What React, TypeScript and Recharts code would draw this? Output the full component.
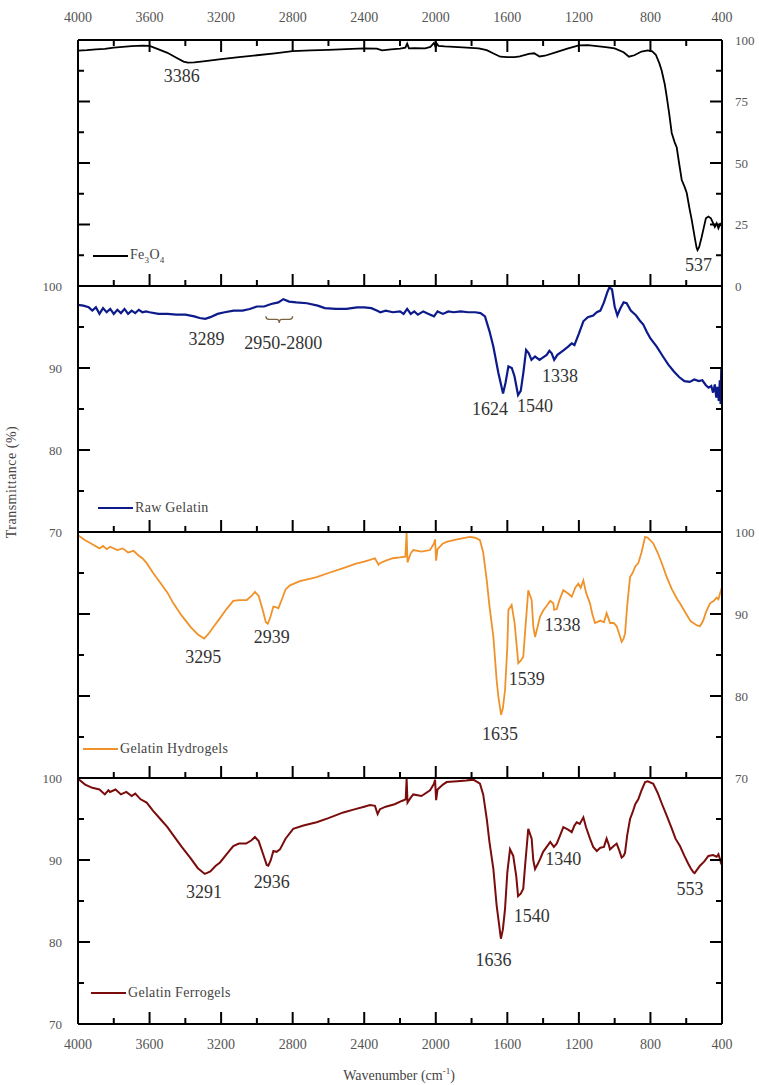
import React from "react";
import { LineChart, Line, XAxis, YAxis, ReferenceDot, ReferenceArea } from "recharts";

const SERIF = '"Liberation Serif", "DejaVu Serif", serif';

// [wavenumber (cm-1), transmittance (%)]
const fe3o4: [number, number][] = [
  [4000, 95.7], [3950, 95.9], [3900, 96.2], [3850, 96.4], [3800, 96.9], [3750, 97.2],
  [3700, 97.5], [3640, 97.7], [3600, 97.6], [3560, 96.5], [3500, 94.8], [3450, 92.8],
  [3410, 91.2], [3386, 90.8], [3350, 90.9], [3300, 91.3], [3200, 92.2], [3100, 93.0],
  [3000, 93.8], [2900, 94.6], [2800, 95.5], [2700, 95.8], [2600, 96.0], [2500, 96.3],
  [2400, 96.6], [2330, 96.5], [2300, 95.8], [2250, 96.2], [2200, 96.5], [2170, 96.9],
  [2160, 98.5], [2150, 96.6], [2120, 96.7], [2060, 96.6], [2030, 97.2], [2010, 98.8],
  [2000, 97.0], [1995, 98.6], [1985, 97.6], [1950, 97.4], [1850, 97.0], [1760, 96.6],
  [1715, 95.9], [1680, 94.6], [1640, 93.2], [1600, 93.0], [1560, 93.0], [1530, 93.3],
  [1480, 94.4], [1450, 94.6], [1420, 93.3], [1390, 93.6], [1330, 95.0], [1260, 96.6],
  [1200, 97.8], [1150, 97.9], [1100, 97.5], [1050, 97.1], [1000, 96.6], [950, 95.0],
  [920, 93.2], [890, 93.8], [850, 95.3], [815, 95.8], [790, 95.4], [770, 94.0],
  [750, 90.5], [737, 87.5], [720, 82.0], [709, 77.0], [695, 70.0], [681, 62.2],
  [665, 58.5], [653, 56.3], [640, 50.0], [625, 43.1], [610, 40.5], [597, 37.8],
  [583, 32.0], [569, 26.8], [553, 20.0], [542, 15.5], [537, 14.6], [528, 15.8],
  [515, 19.5], [504, 23.0], [490, 27.5], [476, 28.2], [462, 27.5], [449, 25.5],
  [440, 24.0], [430, 25.5], [420, 23.5], [410, 25.2], [400, 24.2],
];

const rawGelatin: [number, number][] = [
  [4000, 97.7], [3970, 97.6], [3940, 97.4], [3920, 97.0], [3900, 97.4], [3880, 96.6],
  [3860, 97.3], [3840, 96.8], [3820, 97.2], [3800, 96.6], [3780, 97.1], [3760, 96.7],
  [3740, 97.2], [3720, 96.6], [3700, 97.0], [3680, 96.7], [3660, 97.1], [3640, 96.8],
  [3620, 96.9], [3600, 96.8], [3550, 96.6], [3500, 96.6], [3450, 96.5], [3400, 96.5],
  [3350, 96.3], [3320, 96.1], [3289, 96.0], [3260, 96.2], [3220, 96.6], [3180, 96.8],
  [3130, 97.0], [3080, 97.0], [3040, 97.2], [3000, 97.5], [2960, 97.5], [2920, 97.8],
  [2880, 98.0], [2852, 98.4], [2820, 98.1], [2780, 98.0], [2720, 97.9], [2660, 97.6],
  [2620, 97.3], [2560, 97.2], [2500, 97.2], [2440, 97.4], [2400, 97.4], [2360, 97.3],
  [2330, 97.0], [2310, 96.8], [2280, 97.0], [2240, 96.8], [2200, 96.9], [2180, 96.6],
  [2160, 97.2], [2140, 96.6], [2120, 96.9], [2100, 96.5], [2070, 96.9], [2040, 96.6],
  [2010, 96.3], [1990, 96.9], [1960, 96.6], [1930, 96.9], [1900, 96.8], [1860, 96.9],
  [1820, 96.8], [1780, 96.8], [1750, 96.7], [1725, 96.3], [1700, 94.5], [1678, 92.6],
  [1650, 89.4], [1624, 86.9], [1610, 88.2], [1594, 90.2], [1575, 90.0], [1560, 89.0],
  [1540, 86.7], [1525, 87.2], [1510, 89.5], [1495, 92.2], [1480, 91.8], [1465, 91.0],
  [1445, 91.4], [1420, 91.0], [1400, 91.3], [1380, 91.6], [1365, 92.1], [1352, 91.8],
  [1338, 91.0], [1320, 91.6], [1290, 92.1], [1260, 92.6], [1240, 93.0], [1225, 92.8],
  [1200, 94.2], [1175, 95.7], [1150, 96.2], [1120, 96.4], [1100, 96.8], [1080, 97.0],
  [1060, 98.0], [1040, 99.3], [1030, 99.8], [1015, 99.6], [1000, 97.5], [985, 96.4],
  [970, 97.2], [950, 98.0], [933, 97.9], [910, 97.0], [880, 96.4], [860, 95.8],
  [840, 95.3], [820, 94.4], [800, 93.6], [765, 92.6], [730, 91.4], [700, 90.4],
  [670, 89.6], [640, 88.9], [610, 88.4], [580, 88.3], [555, 88.6], [530, 88.4],
  [510, 88.5], [490, 87.9], [475, 87.6], [460, 87.8], [450, 87.0], [440, 88.0],
  [432, 86.4], [425, 87.7], [418, 86.0], [412, 88.5], [408, 85.6], [404, 90.0],
  [402, 86.5], [400, 85.4],
];

const hydrogels: [number, number][] = [
  [4000, 99.6], [3960, 99.0], [3920, 98.5], [3880, 98.0], [3860, 98.3], [3840, 97.9],
  [3820, 98.2], [3780, 97.8], [3750, 98.0], [3720, 97.5], [3690, 97.7], [3660, 97.1],
  [3640, 96.8], [3616, 96.2], [3580, 95.0], [3540, 93.8], [3500, 92.6], [3467, 91.3],
  [3420, 89.8], [3370, 88.4], [3330, 87.5], [3295, 87.0], [3270, 87.6], [3240, 88.5],
  [3206, 89.5], [3170, 90.6], [3132, 91.6], [3100, 91.7], [3057, 91.7], [3030, 92.2],
  [3011, 92.7], [2990, 92.2], [2965, 90.3], [2950, 89.0], [2939, 88.8], [2925, 89.6],
  [2908, 90.9], [2890, 90.8], [2880, 90.7], [2860, 91.8], [2840, 93.0], [2815, 93.5],
  [2760, 94.0], [2700, 94.3], [2666, 94.5], [2600, 95.0], [2517, 95.6], [2450, 96.1],
  [2400, 96.4], [2368, 96.6], [2340, 96.8], [2320, 96.0], [2312, 96.2], [2280, 96.5],
  [2240, 96.8], [2200, 96.9], [2170, 97.0], [2163, 99.9], [2158, 96.3], [2140, 97.4],
  [2126, 97.8], [2080, 97.6], [2032, 97.8], [2010, 98.6], [2004, 99.1], [1998, 96.5],
  [1990, 97.9], [1960, 98.6], [1939, 98.8], [1900, 99.0], [1860, 99.2], [1809, 99.4],
  [1780, 99.3], [1753, 99.0], [1735, 97.5], [1715, 94.1], [1700, 91.0], [1678, 87.2],
  [1660, 82.0], [1650, 79.9], [1635, 77.7], [1625, 78.5], [1613, 80.7], [1600, 86.0],
  [1594, 90.5], [1576, 91.1], [1560, 89.0], [1545, 85.5], [1539, 84.0], [1525, 84.3],
  [1511, 84.8], [1500, 88.0], [1483, 92.9], [1464, 91.7], [1455, 88.5], [1445, 87.2],
  [1430, 88.5], [1417, 89.7], [1400, 90.4], [1380, 91.0], [1360, 91.6], [1343, 91.3],
  [1338, 90.5], [1324, 90.6], [1310, 91.6], [1287, 92.9], [1260, 92.5], [1240, 92.1],
  [1220, 93.2], [1203, 93.7], [1190, 93.2], [1175, 94.1], [1160, 92.6], [1138, 91.3],
  [1125, 90.0], [1110, 88.9], [1080, 89.2], [1060, 89.0], [1045, 90.1], [1035, 89.5],
  [1026, 88.9], [1005, 88.9], [989, 88.5], [975, 87.6], [961, 86.6], [950, 87.0],
  [942, 87.6], [930, 91.0], [914, 94.5], [900, 95.0], [885, 95.8], [868, 96.2],
  [850, 97.5], [830, 99.4], [815, 99.3], [784, 98.6], [760, 97.5], [735, 96.1],
  [709, 94.5], [680, 93.0], [650, 91.8], [635, 91.3], [600, 90.0], [575, 89.1],
  [560, 88.9], [540, 88.6], [523, 88.5], [505, 89.2], [490, 90.2], [467, 91.3],
  [445, 91.6], [430, 92.0], [420, 91.8], [411, 92.5], [400, 93.3],
];

const ferrogels: [number, number][] = [
  [4000, 99.9], [3960, 99.2], [3920, 98.8], [3880, 98.6], [3850, 98.0], [3830, 98.5],
  [3821, 98.3], [3790, 98.6], [3760, 98.0], [3730, 98.3], [3700, 97.8], [3680, 98.1],
  [3650, 97.4], [3616, 97.0], [3580, 96.0], [3540, 95.0], [3500, 94.0], [3467, 93.0],
  [3420, 91.6], [3370, 90.2], [3330, 89.0], [3291, 88.3], [3260, 88.6], [3230, 89.3],
  [3206, 89.7], [3170, 90.7], [3132, 91.7], [3100, 92.0], [3060, 92.0], [3030, 92.4],
  [3011, 92.8], [2990, 92.3], [2965, 90.7], [2945, 89.4], [2936, 89.3], [2922, 90.0],
  [2908, 91.1], [2890, 91.0], [2871, 91.3], [2840, 92.6], [2797, 93.8], [2740, 94.2],
  [2666, 94.6], [2600, 95.1], [2517, 95.8], [2450, 96.2], [2400, 96.5], [2368, 96.7],
  [2340, 96.6], [2325, 95.6], [2312, 96.2], [2280, 96.5], [2230, 96.8], [2190, 97.2],
  [2168, 97.4], [2163, 99.9], [2158, 97.0], [2140, 97.6], [2126, 98.0], [2080, 97.8],
  [2032, 98.5], [2010, 99.3], [2004, 99.8], [1998, 97.3], [1990, 98.6], [1960, 99.2],
  [1939, 99.5], [1880, 99.6], [1830, 99.7], [1790, 99.8], [1753, 99.3], [1735, 98.0],
  [1715, 95.0], [1700, 92.2], [1678, 88.9], [1660, 84.5], [1650, 82.8], [1636, 80.4],
  [1625, 81.5], [1613, 84.0], [1600, 88.5], [1585, 91.3], [1567, 90.5], [1550, 88.0],
  [1540, 85.6], [1525, 85.9], [1511, 86.5], [1500, 89.5], [1483, 93.8], [1464, 92.6],
  [1455, 90.0], [1445, 88.9], [1430, 89.5], [1417, 90.1], [1400, 91.0], [1380, 91.6],
  [1360, 92.2], [1340, 91.6], [1324, 92.0], [1305, 93.0], [1287, 94.0], [1260, 93.7],
  [1240, 93.4], [1225, 94.2], [1212, 94.6], [1195, 94.4], [1175, 95.2], [1160, 94.0],
  [1138, 92.6], [1120, 91.6], [1100, 91.1], [1080, 91.5], [1060, 91.6], [1045, 92.6],
  [1035, 92.0], [1026, 91.3], [1005, 91.7], [989, 92.0], [975, 91.2], [961, 90.3],
  [950, 90.5], [942, 90.9], [930, 93.0], [914, 95.0], [900, 95.8], [885, 96.8],
  [868, 97.4], [850, 98.5], [830, 99.5], [815, 99.6], [784, 99.3], [760, 98.2],
  [735, 96.8], [709, 95.4], [680, 93.8], [660, 92.6], [635, 91.7], [610, 90.5],
  [590, 89.6], [575, 89.0], [560, 88.5], [553, 88.4], [540, 88.8], [523, 89.3],
  [500, 89.8], [476, 90.5], [450, 90.6], [430, 90.4], [420, 90.7], [411, 90.1],
  [405, 89.6], [400, 89.4],
];

// peak labels: text, and where the label sits (wavenumber, transmittance)
type Peak = { text: string; w: number; t: number };
const fe3o4Peaks: Peak[] = [
  { text: "3386", w: 3420, t: 85.4 },
  { text: "537", w: 532, t: 8.5 },
];
const rawPeaks: Peak[] = [
  { text: "3289", w: 3281, t: 93.6 },
  { text: "2950-2800", w: 2852, t: 93.1 },
  { text: "1624", w: 1697, t: 85.1 },
  { text: "1540", w: 1445, t: 85.4 },
  { text: "1338", w: 1306, t: 89.1 },
];
const hydroPeaks: Peak[] = [
  { text: "3295", w: 3300, t: 84.8 },
  { text: "2939", w: 2917, t: 87.2 },
  { text: "1635", w: 1641, t: 75.4 },
  { text: "1539", w: 1492, t: 82.1 },
  { text: "1338", w: 1291, t: 88.7 },
];
const ferroPeaks: Peak[] = [
  { text: "3291", w: 3296, t: 86.1 },
  { text: "2936", w: 2917, t: 87.4 },
  { text: "1636", w: 1678, t: 77.9 },
  { text: "1540", w: 1464, t: 83.2 },
  { text: "1340", w: 1287, t: 90.2 },
  { text: "553", w: 579, t: 86.5 },
];

const wavenumberTicks = [
  4000, 3800, 3600, 3400, 3200, 3000, 2800, 2600, 2400, 2200,
  2000, 1800, 1600, 1400, 1200, 1000, 800, 600, 400,
];
const fullRangeTicks = [0, 12.5, 25, 37.5, 50, 62.5, 75, 87.5, 100];
const upperRangeTicks = [70, 75, 80, 85, 90, 95, 100];

const PAD = 30;
const PANEL_H = 246;
const LEFT = 78;
const RIGHT = 37;
const WIDTH = 759;

type Side = "top" | "bottom" | "left" | "right";

function AxisTick(props: any) {
  const { x, y, payload, side, step, showLabel } = props;
  const v: number = payload.value;
  const major = Math.abs(v / step - Math.round(v / step)) < 1e-6;
  const len = major ? 12 : 6;
  let line: [number, number, number, number];
  let label = null;
  const textStyle = { fontFamily: SERIF, fill: "#555" };
  if (side === "top") {
    line = [x, y, x, y + len];
    if (showLabel && major)
      label = <text x={x} y={y - 23} dy="0.35em" textAnchor="middle" fontSize={14} {...textStyle}>{v}</text>;
  } else if (side === "bottom") {
    line = [x, y, x, y - len];
    if (showLabel && major)
      label = <text x={x} y={y + 20} dy="0.35em" textAnchor="middle" fontSize={14} {...textStyle}>{v}</text>;
  } else if (side === "left") {
    line = [x, y, x + len, y];
    if (showLabel && major)
      label = <text x={x - 16} y={y} dy="0.35em" textAnchor="end" fontSize={13} {...textStyle}>{v}</text>;
  } else {
    line = [x, y, x - len, y];
    if (showLabel && major)
      label = <text x={x + 13} y={y} dy="0.35em" textAnchor="start" fontSize={13} {...textStyle}>{v}</text>;
  }
  return (
    <g>
      <line x1={line[0]} y1={line[1]} x2={line[2]} y2={line[3]} stroke="#000" strokeWidth={2} />
      {label}
    </g>
  );
}

const tickFor = (side: Side, step: number, showLabel: boolean) => (p: any) => (
  <AxisTick {...p} side={side} step={step} showLabel={showLabel} />
);

// curly brace opening downward, spanning the CH stretch region
function Brace(props: any) {
  const { x, y, width: w, height: h } = props;
  const m = y + h * 0.45;
  const c = x + w / 2;
  const d = `M${x},${y} Q${x},${m} ${x + w * 0.12},${m} L${c - w * 0.1},${m} Q${c},${m} ${c},${y + h}
    Q${c},${m} ${c + w * 0.1},${m} L${x + w * 0.88},${m} Q${x + w},${m} ${x + w},${y}`;
  return <path d={d} fill="none" stroke="#7a6444" strokeWidth={1.3} />;
}

type PanelCfg = {
  data: [number, number][];
  color: string;
  width: number;
  domain: [number, number];
  ticks: number[];
  yStep: number;
  labelSide: "left" | "right";
  top: number;
  peaks: Peak[];
  legend: React.ReactNode;
  legendX: number;
  legendY: number;
};

const panels: PanelCfg[] = [
  {
    data: fe3o4, color: "#000000", width: 1.8, domain: [0, 100], ticks: fullRangeTicks, yStep: 25,
    labelSide: "right", top: 40, peaks: fe3o4Peaks,
    legend: <>Fe<sub style={{ fontSize: 9 }}>3</sub>O<sub style={{ fontSize: 9 }}>4</sub></>,
    legendX: 93, legendY: 256,
  },
  {
    data: rawGelatin, color: "#0c1a8a", width: 2.2, domain: [70, 100], ticks: upperRangeTicks, yStep: 10,
    labelSide: "left", top: 286, peaks: rawPeaks, legend: "Raw Gelatin",
    legendX: 98, legendY: 508,
  },
  {
    data: hydrogels, color: "#f0922a", width: 1.8, domain: [70, 100], ticks: upperRangeTicks, yStep: 10,
    labelSide: "right", top: 532, peaks: hydroPeaks, legend: "Gelatin Hydrogels",
    legendX: 83, legendY: 749,
  },
  {
    data: ferrogels, color: "#7a0c0c", width: 2, domain: [70, 100], ticks: upperRangeTicks, yStep: 10,
    labelSide: "left", top: 778, peaks: ferroPeaks, legend: "Gelatin Ferrogels",
    legendX: 91, legendY: 993,
  },
];

const axisLine = { stroke: "#000", strokeWidth: 2 };

// axes are 1px thick (a zero-sized axis is not drawn); margins shrink by that pixel
function Panel({ cfg, first, last, brace }: { cfg: PanelCfg; first: boolean; last: boolean; brace: boolean }) {
  const data = cfg.data.map(([w, t]) => ({ w, t }));
  return (
    <div style={{ position: "absolute", left: 0, top: cfg.top - PAD }}>
      <LineChart
        width={WIDTH}
        height={PANEL_H + 2 * PAD}
        data={data}
        margin={{ top: PAD - 1, bottom: PAD - 1, left: LEFT - 1, right: RIGHT - 1 }}
      >
        <XAxis
          xAxisId="top" orientation="top" dataKey="w" type="number" domain={[400, 4000]}
          reversed allowDataOverflow ticks={wavenumberTicks} interval={0} height={1}
          tickSize={0} tickMargin={0} tickLine={false} axisLine={axisLine}
          tick={first ? tickFor("top", 400, true) : false}
        />
        <XAxis
          xAxisId="bottom" orientation="bottom" dataKey="w" type="number" domain={[400, 4000]}
          reversed allowDataOverflow ticks={wavenumberTicks} interval={0} height={1}
          tickSize={0} tickMargin={0} tickLine={false} axisLine={axisLine}
          tick={tickFor("bottom", 400, last)}
        />
        <YAxis
          yAxisId="left" orientation="left" type="number" domain={cfg.domain} allowDataOverflow
          ticks={cfg.ticks} interval={0} width={1} tickSize={0} tickMargin={0} tickLine={false}
          axisLine={axisLine} tick={tickFor("left", cfg.yStep, cfg.labelSide === "left")}
        />
        <YAxis
          yAxisId="right" orientation="right" type="number" domain={cfg.domain} allowDataOverflow
          ticks={cfg.ticks} interval={0} width={1} tickSize={0} tickMargin={0} tickLine={false}
          axisLine={axisLine} tick={tickFor("right", cfg.yStep, cfg.labelSide === "right")}
        />
        <Line
          xAxisId="bottom" yAxisId="left" dataKey="t" type="linear" stroke={cfg.color}
          strokeWidth={cfg.width} dot={false} isAnimationActive={false}
        />
        {brace && (
          <ReferenceArea
            xAxisId="bottom" yAxisId="left" x1={2950} x2={2800} y1={95.5} y2={96.3}
            shape={Brace}
          />
        )}
        {cfg.peaks.map((p) => (
          <ReferenceDot
            key={p.text + p.w}
            xAxisId="bottom" yAxisId="left" x={p.w} y={p.t} r={0}
            fill="none" stroke="none"
            label={{ value: p.text, position: "center", fill: "#333", fontSize: 18, fontFamily: SERIF }}
          />
        ))}
      </LineChart>
      <div
        style={{
          position: "absolute", left: cfg.legendX, top: cfg.legendY - cfg.top + PAD - 10,
          height: 20, display: "flex", alignItems: "center", fontFamily: SERIF,
          fontSize: 14, letterSpacing: 0.3, color: "#444", whiteSpace: "nowrap",
        }}
      >
        <span style={{ display: "inline-block", width: 35, height: 2, background: cfg.color, marginRight: 2 }} />
        <span>{cfg.legend}</span>
      </div>
    </div>
  );
}

export default function App() {
  return (
    <div style={{ position: "absolute", left: 0, top: 0, width: WIDTH, height: 1085, background: "#fff" }}>
      {panels.map((cfg, i) => (
        <Panel key={i} cfg={cfg} first={i === 0} last={i === panels.length - 1} brace={i === 1} />
      ))}
      <div
        style={{
          position: "absolute", left: 12, top: 482, transform: "translate(-50%, -50%) rotate(-90deg)",
          fontFamily: SERIF, fontSize: 14, letterSpacing: 0.5, color: "#444", whiteSpace: "nowrap",
        }}
      >
        Transmittance (%)
      </div>
      <div
        style={{
          position: "absolute", left: 399, top: 1075, transform: "translate(-50%, -50%)",
          fontFamily: SERIF, fontSize: 14, color: "#444", whiteSpace: "nowrap",
        }}
      >
        Wavenumber (cm<sup style={{ fontSize: 9 }}>-1</sup>)
      </div>
    </div>
  );
}
